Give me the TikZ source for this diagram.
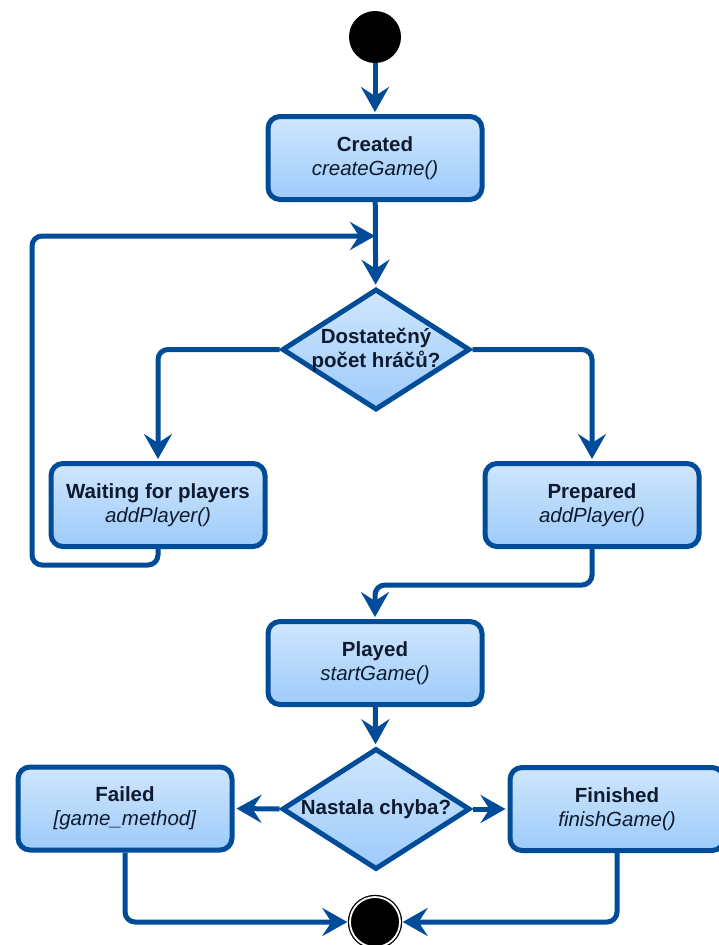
\documentclass[tikz,border=0pt]{standalone}
\usepackage{fontspec}
\setmainfont{Liberation Sans}
\usetikzlibrary{arrows.meta,shapes.geometric}
\definecolor{edge}{HTML}{004C99}
\definecolor{filltop}{HTML}{CFE6FD}
\definecolor{fillbot}{HTML}{9DCBFA}
\definecolor{ink}{HTML}{0E1B2F}
\begin{document}
\begin{tikzpicture}[x=1pt,y=-1pt,
  state/.style={rectangle, rounded corners=12pt, draw=edge, line width=5pt,
    top color=filltop, bottom color=fillbot, minimum width=214pt,
    minimum height=83pt, inner sep=0pt, align=center, text=ink,
    font=\fontsize{20.5}{24}\selectfont},
  decision/.style={diamond, draw=edge, line width=5pt, top color=filltop,
    bottom color=fillbot, minimum width=188pt, minimum height=121pt, inner sep=0pt},
  question/.style={align=center, text=ink, inner sep=0pt,
    font=\fontsize{20.5}{24}\selectfont\bfseries},
  initial/.style={circle, fill=black, minimum size=52pt, inner sep=0pt},
  final/.style={circle, fill=black, draw=black, line width=1.3pt, double=white,
    double distance=1.8pt, minimum size=50pt, inner sep=0pt},
  conn/.style={draw=edge, line width=5pt, rounded corners=10pt,
    -{Stealth[length=25pt,width=28pt,inset=9pt]}, shorten >=2pt},
]
\useasboundingbox (0,0) rectangle (718,945);

% states
\node[initial] (start) at (375,37) {};
\node[state] (created) at (375,158) {\textbf{Created}\\\textit{createGame()}};
\node[decision] (d1) at (376,349.5) {};
\node[question] (d1text) at (376,349.5) {Dostatečný\\počet hráčů?};
\node[state] (waiting) at (158,505) {\textbf{Waiting for players}\\\textit{addPlayer()}};
\node[state] (prepared) at (592,505) {\textbf{Prepared}\\\textit{addPlayer()}};
\node[state] (played) at (375,663) {\textbf{Played}\\\textit{startGame()}};
\node[decision] (d2) at (376,809) {};
\node[question] (d2text) at (376,809) {Nastala chyba?};
\node[state] (failed) at (125,808.5) {\textbf{Failed}\\\textit{[game\_method]}};
\node[state] (finished) at (617,809) {\textbf{Finished}\\\textit{finishGame()}};
\node[final] (end) at (375,922) {};

\coordinate (join) at (375,236);

% transitions
\draw[conn] (start) -- (created);
\draw[conn] (created) -- (d1);
\draw[conn, shorten >=0pt] (waiting.south) -- (158,565) -- (32,565) -- (32,236) -- (join);
\draw[conn] (d1.west) -| (waiting.north);
\draw[conn] (d1.east) -| (prepared.north);
\draw[conn] (prepared.south) -- (592,585) -| (played.north);
\draw[conn] (played) -- (d2);
\draw[conn] (d2.west) -- (failed.east);
\draw[conn] (d2.east) -- (finished.west);
\draw[conn] (failed.south) |- (end.west);
\draw[conn] (finished.south) |- (end.east);
\end{tikzpicture}
\end{document}
